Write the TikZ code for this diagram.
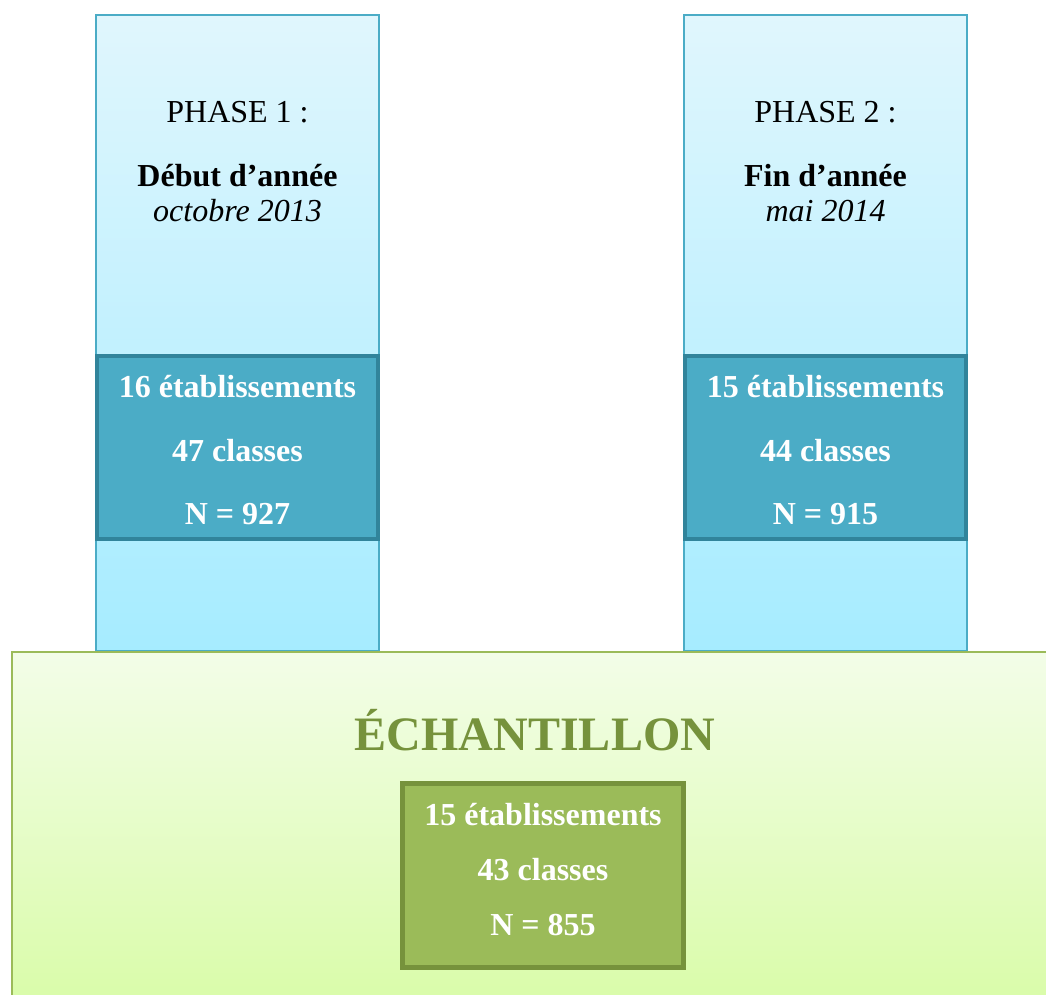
\documentclass[tikz,border=0pt]{standalone}
\usepackage{fontspec}
\setmainfont{Liberation Serif}
\definecolor{colTop}{HTML}{E0F6FD}
\definecolor{colBot}{HTML}{A6ECFF}
\definecolor{colLine}{HTML}{4BACC6}
\definecolor{blueFill}{HTML}{4BACC6}
\definecolor{blueLine}{HTML}{31849B}
\definecolor{grnTop}{HTML}{F3FDE8}
\definecolor{grnBot}{HTML}{D8FCA6}
\definecolor{grnLine}{HTML}{9BBB59}
\definecolor{grnFill}{HTML}{9BBB59}
\definecolor{grnDark}{HTML}{76923C}
\tikzset{
  x=1pt, y=-1pt,
  colbox/.style={draw=colLine, line width=1.5pt, top color=colTop, bottom color=colBot, inner sep=0pt, minimum width=283pt, minimum height=636pt},
  bluebox/.style={draw=blueLine, line width=4pt, fill=blueFill, inner sep=0pt, minimum width=281pt, minimum height=183pt},
  grnbox/.style={draw=grnDark, line width=5pt, fill=grnFill, inner sep=0pt, minimum width=281pt, minimum height=184pt},
  bigbox/.style={draw=grnLine, line width=1.5pt, top color=grnTop, bottom color=grnBot, inner sep=0pt},
  txt/.style={inner sep=0pt, anchor=base, font=\fontsize{32}{38}\selectfont},
  wtxt/.style={txt, text=white, font=\fontsize{32}{38}\selectfont\bfseries},
}
\begin{document}
\begin{tikzpicture}
\useasboundingbox (0,0) rectangle (1046,994);
\clip (0,0) rectangle (1046,994);
% columns
\node[colbox] (col1) at (237.5,333) {};
\node[colbox] (col2) at (825.5,333) {};
\node[txt] (p1) at (237.5,122) {PHASE 1 :};
\node[txt, font=\fontsize{32}{38}\selectfont\bfseries] (d1) at (237.5,186) {Début d’année};
\node[txt, font=\fontsize{32}{38}\selectfont\itshape] (o1) at (237.5,221) {octobre 2013};
\node[txt] (p2) at (825.5,122) {PHASE 2 :};
\node[txt, font=\fontsize{32}{38}\selectfont\bfseries] (d2) at (825.5,186) {Fin d’année};
\node[txt, font=\fontsize{32}{38}\selectfont\itshape] (o2) at (825.5,221) {mai 2014};
% blue boxes
\node[bluebox] (b1) at (237.5,447.5) {};
\node[wtxt] (b1a) at (237.5,397) {16 établissements};
\node[wtxt] (b1b) at (237.5,461) {47 classes};
\node[wtxt] (b1c) at (237.5,524) {N = 927};
\node[bluebox] (b2) at (825.5,447.5) {};
\node[wtxt] (b2a) at (825.5,397) {15 établissements};
\node[wtxt] (b2b) at (825.5,461) {44 classes};
\node[wtxt] (b2c) at (825.5,524) {N = 915};
% sample box
\path[bigbox] (12,652) rectangle (1070,1020);
\node[txt, text=grnDark, font=\fontsize{48}{56}\selectfont\bfseries] (ech) at (535,750) {ÉCHANTILLON};
\node[grnbox] (g) at (543,875.5) {};
\node[wtxt] (ga) at (543,825) {15 établissements};
\node[wtxt] (gb) at (543,880) {43 classes};
\node[wtxt] (gc) at (543,935) {N = 855};
\end{tikzpicture}
\end{document}
